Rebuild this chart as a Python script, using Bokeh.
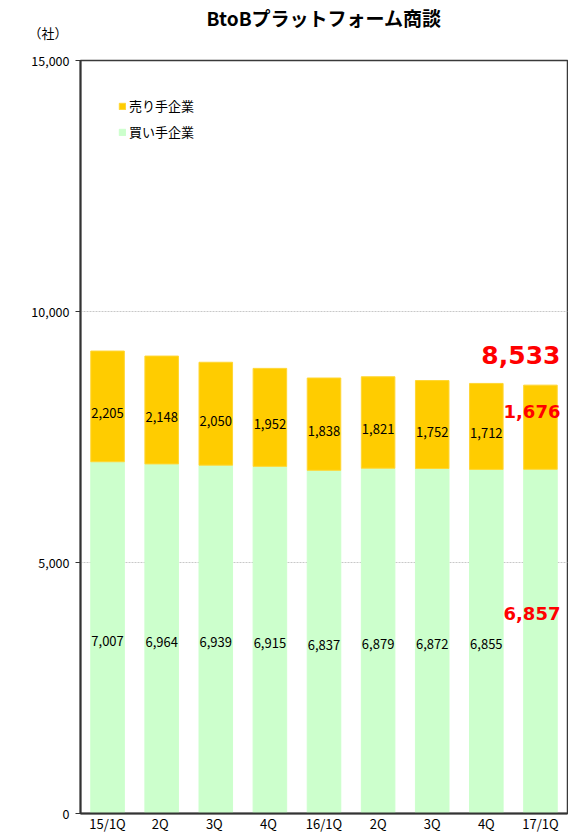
from bokeh.plotting import figure
from bokeh.models import ColumnDataSource, Range1d, FixedTicker, NumeralTickFormatter, Legend, LegendItem, Title
from bokeh.core.properties import value
from bokeh.embed import file_html
from bokeh.resources import INLINE

quarters = ["15/1Q", "2Q ", "3Q ", "4Q ", "16/1Q", "2Q", "3Q", "4Q", "17/1Q"]
tick_names = ["15/1Q", "2Q", "3Q", "4Q", "16/1Q", "2Q", "3Q", "4Q", "17/1Q"]
buyers = [7007, 6964, 6939, 6915, 6837, 6879, 6872, 6855, 6857]
sellers = [2205, 2148, 2050, 1952, 1838, 1821, 1752, 1712, 1676]
y_ticks = [0, 5000, 10000, 15000]

JP = "Noto Sans CJK JP"

totals = [b + s for b, s in zip(buyers, sellers)]
src = ColumnDataSource(dict(
    q=quarters,
    buy=buyers,
    sell=sellers,
    total=totals,
    buy_mid=[b / 2 for b in buyers],
    sell_mid=[b + s / 2 for b, s in zip(buyers, sellers)],
    buy_txt=[f"{v:,}" for v in buyers],
    sell_txt=[f"{v:,}" for v in sellers],
))
main = ColumnDataSource({k: v[:-1] for k, v in src.data.items()})
last = ColumnDataSource({k: v[-1:] for k, v in src.data.items()})
last.data["total_txt"] = [f"{totals[-1]:,}"]

p = figure(x_range=quarters, y_range=Range1d(0, 15000), width=568, height=835,
           output_backend="svg", toolbar_location=None,
           min_border_left=80, min_border_right=1, min_border_top=60, min_border_bottom=22)
p.background_fill_color = "white"
p.border_fill_color = "white"
p.outline_line_color = "#3a3a3a"
p.outline_line_width = 1.5

p.x_range.range_padding = 0
p.xgrid.grid_line_color = None
p.ygrid.grid_line_color = "#c8c8c8"
p.ygrid.grid_line_dash = "2 1"
p.ygrid.grid_line_width = 1

p.yaxis.ticker = FixedTicker(ticks=y_ticks)
p.yaxis.formatter = NumeralTickFormatter(format="0,0")
p.yaxis.major_tick_out = 5
p.yaxis.major_tick_in = 0
p.yaxis.minor_tick_line_color = None
p.yaxis.axis_line_color = "#333333"
p.yaxis.axis_line_width = 2
p.yaxis.major_tick_line_color = "#333333"
p.yaxis.major_label_text_font = JP
p.yaxis.major_label_text_font_size = "12.5px"
p.yaxis.major_label_text_color = "black"
p.yaxis.major_label_standoff = 6

p.xaxis.major_tick_line_color = None
p.xaxis.major_tick_out = 0
p.xaxis.axis_line_color = "#333333"
p.xaxis.axis_line_width = 2
p.xaxis.major_label_text_font = JP
p.xaxis.major_label_text_font_size = "13px"
p.xaxis.major_label_text_color = "black"
p.xaxis.major_label_standoff = 0
p.xaxis.major_label_overrides = {q: t for q, t in zip(quarters, tick_names)}

w = 0.62
r_buy = p.vbar(x="q", bottom=0, top="buy", width=w, source=src,
               fill_color="#CCFFCC", line_color="#CCFFCC")
r_sell = p.vbar(x="q", bottom="buy", top="total", width=w, source=src,
                fill_color="#FFCC00", line_color="#FFD633")

p.text(x="q", y="sell_mid", text="sell_txt", source=main, text_align="center",
       text_baseline="middle", y_offset=7, text_font=value(JP), text_font_size="13px",
       text_color="black")
p.text(x="q", y="buy_mid", text="buy_txt", source=main, text_align="center",
       text_baseline="middle", y_offset=3, text_font=value(JP), text_font_size="13px",
       text_color="black")

RED_FONT = "DejaVu Sans"
p.text(x="q", y="total", text="total_txt", source=last, text_align="right",
       text_baseline="middle", x_offset=20, y_offset=-30, text_font=value(RED_FONT),
       text_font_style="bold", text_font_size="25px", text_color="#FF0000")
p.text(x="q", y="sell_mid", text="sell_txt", source=last, text_align="right",
       text_baseline="middle", x_offset=20, y_offset=-16, text_font=value(RED_FONT),
       text_font_style="bold", text_font_size="18px", text_color="#FF0000")
p.text(x="q", y="buy_mid", text="buy_txt", source=last, text_align="right",
       text_baseline="middle", x_offset=20, y_offset=-28, text_font=value(RED_FONT),
       text_font_style="bold", text_font_size="18px", text_color="#FF0000")

# unit label (closest to the frame) and main title above it
p.add_layout(Title(text="（社）", align="left", offset=-52, standoff=37,
                   text_font=JP, text_font_size="13px", text_font_style="normal",
                   text_color="black"), "above")
p.add_layout(Title(text="BtoBプラットフォーム商談", align="center", standoff=-56,
                   text_font=JP, text_font_size="19px", text_font_style="bold",
                   text_color="black"), "above")

legend = Legend(items=[LegendItem(label="売り手企業", renderers=[r_sell]),
                       LegendItem(label="買い手企業", renderers=[r_buy])],
                location=(38, 672), glyph_width=8, glyph_height=8, label_standoff=3,
                label_height=13, spacing=7, padding=0, margin=0,
                border_line_color=None, background_fill_alpha=0,
                label_text_font=JP, label_text_font_size="13px", label_text_color="black")
p.add_layout(legend)

open("out.html", "w").write(file_html(p, INLINE))
